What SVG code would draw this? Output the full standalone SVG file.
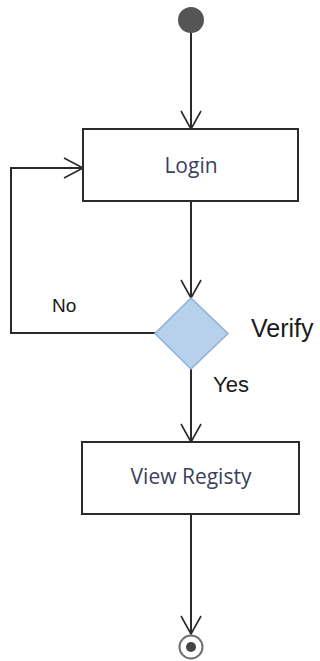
<svg xmlns="http://www.w3.org/2000/svg" width="320" height="661" viewBox="0 0 320 661">
  <style>
    .edge { fill: none; stroke: #2b2b2b; stroke-width: 2; }
    .head { fill: none; stroke: #2b2b2b; stroke-width: 1.6; }
    .box { fill: #ffffff; stroke: #2b2b2b; stroke-width: 2; }
    .act { font-family: "Open Sans", "DejaVu Sans", sans-serif; font-size: 21px; fill: #3b3f5c; text-anchor: middle; }
    .lbl { font-family: "Liberation Sans", Arial, sans-serif; fill: #1a1a1a; }
  </style>
  <rect width="320" height="661" fill="#ffffff"/>

  <g id="connectors">
    <!-- start to Login -->
    <path class="edge" d="M191 33 V129"/>
    <path class="head" d="M181 111 L191 129 L201 111"/>
    <!-- Login to Verify -->
    <path class="edge" d="M191 201 V298"/>
    <path class="head" d="M181 280 L191 298 L201 280"/>
    <!-- Verify (No) back to Login -->
    <path class="edge" d="M155 333 H11 V168 H83"/>
    <path class="head" d="M64 158 L83 168 L64 178"/>
    <!-- Verify (Yes) to View Registy -->
    <path class="edge" d="M191 369 V442"/>
    <path class="head" d="M181 424 L191 442 L201 424"/>
    <!-- View Registy to end -->
    <path class="edge" d="M191 514 V634"/>
    <path class="head" d="M181 616 L191 634 L201 616"/>
  </g>

  <g id="start">
    <circle cx="191" cy="20" r="13" fill="#555555"/>
  </g>

  <g id="login">
    <rect class="box" x="83" y="129" width="215" height="72"/>
    <text class="act" x="191" y="173">Login</text>
  </g>

  <g id="verify">
    <polygon points="191,298 228,333.5 191,369 155,333.5" fill="#b7d1ec" stroke="#8eb1da" stroke-width="1.5"/>
    <text class="lbl" x="251" y="337" font-size="25">Verify</text>
  </g>

  <g id="labels">
    <text class="lbl" x="52" y="312" font-size="19">No</text>
    <text class="lbl" x="213" y="392" font-size="22">Yes</text>
  </g>

  <g id="view-registy">
    <rect class="box" x="82" y="442" width="217" height="72"/>
    <text class="act" x="191" y="484">View Registy</text>
  </g>

  <g id="end">
    <circle cx="191" cy="647" r="11.5" fill="#ffffff" stroke="#6e6e6e" stroke-width="2"/>
    <circle cx="191" cy="647" r="5" fill="#444444"/>
  </g>
</svg>
